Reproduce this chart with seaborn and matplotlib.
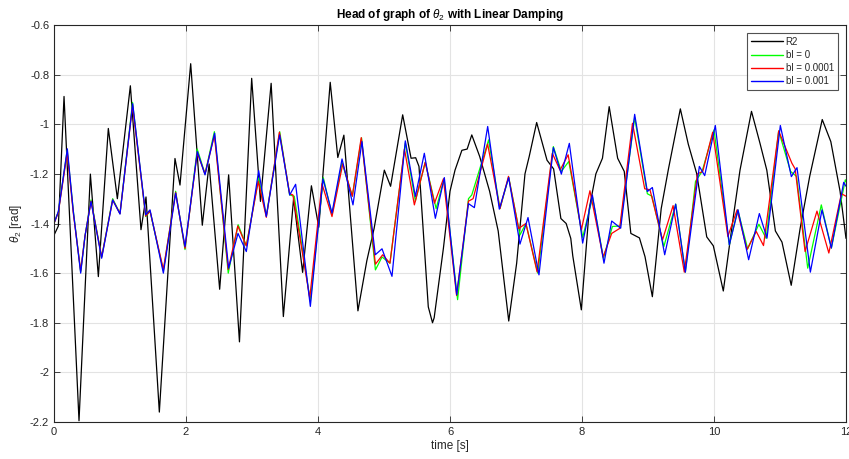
import matplotlib
matplotlib.use("Agg")
import matplotlib.pyplot as plt
import seaborn as sns
import pandas as pd

# ---- data ----
t_r2 = [0, 0.066, 0.152, 0.379, 0.551, 0.672, 0.823, 0.96, 1.157, 1.318, 1.394, 1.596,
        1.833, 1.909, 2.071, 2.247, 2.35, 2.51, 2.646, 2.81, 2.995, 3.128, 3.29, 3.475,
        3.63, 3.767, 3.9, 4.012, 4.185, 4.3, 4.392, 4.605, 4.74, 4.85, 5.005, 5.1, 5.283,
        5.41, 5.48, 5.53, 5.671, 5.735, 5.76, 5.9, 6.0, 6.076, 6.18, 6.26, 6.33, 6.45,
        6.6, 6.73, 6.89, 7.01, 7.136, 7.2, 7.313, 7.47, 7.57, 7.68, 7.76, 7.83, 7.86,
        7.99, 8.11, 8.21, 8.31, 8.412, 8.54, 8.64, 8.74, 8.87, 8.955, 9.066, 9.2, 9.31,
        9.49, 9.61, 9.737, 9.89, 9.99, 10.141, 10.293, 10.394, 10.568, 10.697, 10.8,
        10.93, 11.03, 11.17, 11.305, 11.45, 11.64, 11.77, 11.91, 12.0]
v_r2 = [-1.447, -1.41, -0.888, -2.195, -1.201, -1.614, -1.017, -1.30, -0.845, -1.425,
        -1.293, -2.16, -1.138, -1.245, -0.756, -1.407, -1.16, -1.665, -1.204, -1.877,
        -0.815, -1.311, -0.835, -1.775, -1.30, -1.597, -1.248, -1.415, -0.831, -1.134,
        -1.044, -1.752, -1.55, -1.42, -1.185, -1.25, -0.962, -1.137, -1.135, -1.17,
        -1.736, -1.80, -1.78, -1.50, -1.27, -1.185, -1.105, -1.10, -1.043, -1.13,
        -1.27, -1.43, -1.793, -1.56, -1.20, -1.13, -0.993, -1.145, -1.18, -1.38,
        -1.40, -1.46, -1.53, -1.748, -1.34, -1.20, -1.137, -0.929, -1.137, -1.19,
        -1.44, -1.458, -1.534, -1.695, -1.34, -1.18, -0.938, -1.08, -1.198, -1.454,
        -1.49, -1.672, -1.373, -1.185, -0.948, -1.077, -1.185, -1.43, -1.475, -1.649,
        -1.42, -1.21, -0.981, -1.07, -1.27, -1.46]

t_g = [0, 0.066, 0.2, 0.293, 0.404, 0.47, 0.561, 0.722, 0.889, 1.0, 1.19, 1.389, 1.455,
       1.657, 1.843, 1.985, 2.17, 2.288, 2.43, 2.64, 2.79, 2.914, 3.1, 3.217, 3.42, 3.57,
       3.64, 3.884, 4.08, 4.212, 4.364, 4.52, 4.66, 4.87, 4.97, 5.09, 5.323, 5.475,
       5.625, 5.79, 5.91, 6.115, 6.28, 6.33, 6.585, 6.757, 6.889, 7.06, 7.15, 7.33,
       7.566, 7.687, 7.80, 8.01, 8.16, 8.325, 8.46, 8.58, 8.798, 8.99, 9.06, 9.24,
       9.42, 9.566, 9.72, 9.82, 10.0, 10.232, 10.36, 10.51, 10.68, 10.79, 10.98,
       11.16, 11.25, 11.42, 11.626, 11.778, 11.99, 12.0]
v_g = [-1.399, -1.352, -1.105, -1.35, -1.595, -1.45, -1.305, -1.535, -1.30, -1.36,
       -0.912, -1.372, -1.35, -1.59, -1.27, -1.505, -1.10, -1.20, -1.03, -1.60, -1.405,
       -1.49, -1.217, -1.37, -1.03, -1.285, -1.29, -1.714, -1.215, -1.365, -1.155,
       -1.29, -1.055, -1.587, -1.535, -1.56, -1.075, -1.31, -1.153, -1.34, -1.22,
       -1.707, -1.30, -1.285, -1.063, -1.34, -1.213, -1.446, -1.40, -1.60, -1.09,
       -1.19, -1.15, -1.456, -1.295, -1.54, -1.412, -1.41, -0.973, -1.28, -1.29,
       -1.493, -1.322, -1.596, -1.23, -1.19, -1.023, -1.486, -1.345, -1.502, -1.403,
       -1.46, -1.027, -1.19, -1.21, -1.58, -1.325, -1.499, -1.224, -1.23]

t_r = [0, 0.066, 0.2, 0.293, 0.404, 0.47, 0.561, 0.722, 0.889, 1.0, 1.19, 1.389, 1.455,
       1.657, 1.843, 1.985, 2.17, 2.288, 2.43, 2.64, 2.785, 2.914, 3.095, 3.217, 3.415,
       3.57, 3.62, 3.875, 4.06, 4.212, 4.375, 4.52, 4.655, 4.87, 4.98, 5.09, 5.31, 5.46,
       5.625, 5.765, 5.90, 6.10, 6.28, 6.35, 6.57, 6.757, 6.886, 7.04, 7.15, 7.32, 7.55,
       7.667, 7.79, 7.99, 8.12, 8.32, 8.45, 8.57, 8.765, 8.95, 9.03, 9.22, 9.38, 9.55,
       9.75, 9.83, 9.98, 10.21, 10.35, 10.50, 10.64, 10.75, 10.98, 11.18, 11.23, 11.38,
       11.56, 11.74, 11.93, 12.0]
v_r = [-1.40, -1.355, -1.115, -1.36, -1.59, -1.45, -1.31, -1.535, -1.305, -1.36, -0.925,
       -1.37, -1.35, -1.585, -1.275, -1.50, -1.115, -1.20, -1.045, -1.585, -1.41, -1.49,
       -1.23, -1.375, -1.032, -1.28, -1.285, -1.70, -1.24, -1.372, -1.16, -1.29, -1.054,
       -1.564, -1.526, -1.56, -1.10, -1.325, -1.153, -1.318, -1.22, -1.69, -1.31, -1.30,
       -1.08, -1.34, -1.21, -1.42, -1.40, -1.595, -1.117, -1.185, -1.123, -1.425, -1.268,
       -1.535, -1.44, -1.42, -0.996, -1.26, -1.264, -1.466, -1.328, -1.596, -1.20, -1.19,
       -1.032, -1.452, -1.345, -1.505, -1.432, -1.489, -1.027, -1.157, -1.18, -1.513,
       -1.35, -1.519, -1.28, -1.29]

t_b = [0, 0.066, 0.202, 0.293, 0.404, 0.47, 0.561, 0.722, 0.889, 1.0, 1.192, 1.389,
       1.455, 1.657, 1.843, 1.985, 2.172, 2.288, 2.434, 2.646, 2.788, 2.914, 3.101, 3.217,
       3.419, 3.571, 3.661, 3.884, 4.076, 4.212, 4.364, 4.53, 4.666, 4.868, 4.97, 5.121,
       5.323, 5.475, 5.611, 5.778, 5.914, 6.101, 6.28, 6.369, 6.571, 6.747, 6.889, 7.06,
       7.182, 7.348, 7.566, 7.687, 7.808, 8.01, 8.157, 8.333, 8.45, 8.586, 8.798, 8.99,
       9.066, 9.253, 9.419, 9.566, 9.778, 9.859, 10.02, 10.232, 10.364, 10.525, 10.687,
       10.803, 11.005, 11.172, 11.258, 11.46, 11.636, 11.778, 11.965, 12.0]
v_b = [-1.399, -1.352, -1.099, -1.352, -1.60, -1.45, -1.311, -1.54, -1.305, -1.362,
       -0.917, -1.365, -1.345, -1.60, -1.278, -1.493, -1.11, -1.204, -1.036, -1.58,
       -1.44, -1.513, -1.187, -1.372, -1.043, -1.285, -1.242, -1.734, -1.22, -1.358,
       -1.14, -1.325, -1.07, -1.526, -1.502, -1.613, -1.067, -1.291, -1.117, -1.379,
       -1.215, -1.687, -1.32, -1.336, -1.009, -1.342, -1.215, -1.483, -1.376, -1.607,
       -1.094, -1.201, -1.077, -1.479, -1.285, -1.56, -1.39, -1.419, -0.96, -1.271,
       -1.255, -1.526, -1.322, -1.596, -1.17, -1.207, -1.005, -1.486, -1.345, -1.546,
       -1.36, -1.459, -1.005, -1.211, -1.175, -1.596, -1.345, -1.499, -1.234, -1.25]

labels = ["R2", "bl = 0", "bl = 0.0001", "bl = 0.001"]
colors = ["#000000", "#00ff00", "#ff0000", "#0000ff"]
x_ticks = [0, 2, 4, 6, 8, 10, 12]
y_ticks = [-2.2, -2, -1.8, -1.6, -1.4, -1.2, -1, -0.8, -0.6]
y_ticklabels = ["-2.2", "-2", "-1.8", "-1.6", "-1.4", "-1.2", "-1", "-0.8", "-0.6"]

# ---- plot ----
sns.set_theme(style="white")
plt.rcParams["font.family"] = ["Liberation Sans", "DejaVu Sans"]
plt.rcParams["mathtext.fontset"] = "custom"
plt.rcParams["mathtext.it"] = "Liberation Sans:italic"
plt.rcParams["mathtext.rm"] = "Liberation Sans"

fig = plt.figure(figsize=(8.49, 4.59), dpi=100)
ax = fig.add_axes([54 / 849, 37 / 459, 792 / 849, 397 / 459])

series = [(t_r2, v_r2), (t_g, v_g), (t_r, v_r), (t_b, v_b)]
for (tt, vv), lab, col in zip(series, labels, colors):
    df = pd.DataFrame({"t": tt, "v": vv})
    sns.lineplot(data=df, x="t", y="v", ax=ax, color=col, label=lab,
                 linewidth=0.9, sort=False, estimator=None,
                 solid_joinstyle="round")

ax.set_xlim(0, 12)
ax.set_ylim(-2.2, -0.6)
ax.set_xticks(x_ticks)
ax.set_yticks(y_ticks)
ax.set_yticklabels(y_ticklabels)
ax.grid(True, color="#e3e3e3", linewidth=0.8)
ax.set_axisbelow(True)
ax.tick_params(direction="in", length=4, width=0.6, colors="#262626",
               labelsize=8, top=True, right=True, bottom=True, left=True)
for s in ax.spines.values():
    s.set_color("#262626")
    s.set_linewidth(0.8)

ax.set_xlabel("time [s]", fontsize=8.5, color="#262626", labelpad=2)
ax.set_ylabel(r"$\theta_2$ [rad]", fontsize=8.5, color="#262626", labelpad=4)
ax.set_title(r"Head of graph of $\theta_2$ with Linear Damping", fontsize=8.5,
             fontweight="bold", color="#000000", pad=5)

leg = ax.legend(loc="upper right", bbox_to_anchor=(0.9895, 0.98), fontsize=7,
                frameon=True, fancybox=False, borderpad=0.4, labelspacing=0.32,
                handlelength=3.3, handletextpad=0.3, borderaxespad=0.0)
leg.get_frame().set_edgecolor("#262626")
leg.get_frame().set_linewidth(0.8)
for h in leg.get_lines():
    h.set_linewidth(1.0)

fig.savefig("out.png", dpi=100)
